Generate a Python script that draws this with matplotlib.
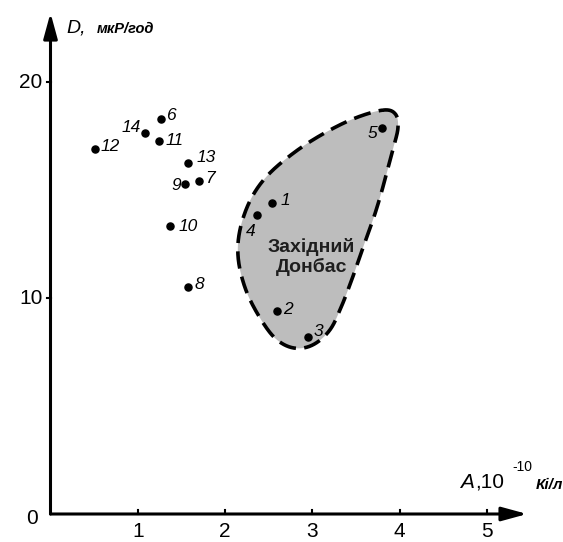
import numpy as np
import matplotlib
matplotlib.use("Agg")
import matplotlib.pyplot as plt

# ---- data ----
point_ids = ["1", "2", "3", "4", "5", "6", "7", "8", "9", "10", "11", "12", "13", "14"]
activity = [2.54, 2.59, 2.95, 2.37, 3.80, 1.27, 1.70, 1.58, 1.54, 1.37, 1.24, 0.51, 1.58, 1.08]
dose = [14.40, 9.40, 8.19, 13.84, 17.87, 18.29, 15.42, 10.51, 15.28, 13.33, 17.27, 16.90, 16.25, 17.64]

# outline of the "Західний Донбас" region (data coordinates)
region_x = [3.81, 3.95, 3.98, 3.92, 3.83, 3.72, 3.59, 3.47, 3.34, 3.20, 3.00,
            2.78, 2.57, 2.38, 2.23, 2.15, 2.17, 2.29, 2.49, 2.80, 3.14, 3.49]
region_y = [18.70, 18.52, 17.87, 16.85, 15.46, 13.94, 12.45, 11.06, 9.68, 8.52, 7.82,
            7.69, 8.15, 9.21, 10.46, 11.85, 13.15, 14.54, 15.69, 16.76, 17.64, 18.33]
region_label = "Західний\nДонбас"

x_ticks = [1, 2, 3, 4, 5]
y_ticks = [10, 20]

# label offsets in pixels (style)
label_offsets = {
    "1": (8, 2, "left"), "2": (7, 1, "left"), "3": (6, 6, "left"),
    "4": (-7, -16, "center"), "5": (-5, -5, "right"), "6": (5, 3, "left"),
    "7": (6, 2, "left"), "8": (6, 2, "left"), "9": (-4, -2, "right"),
    "10": (8, 0, "left"), "11": (7, 0, "left"), "12": (6, 2, "left"),
    "13": (8, 6, "left"), "14": (-4, 5, "right"),
}


def closed_catmull_rom(xs, ys, n=30):
    P = np.column_stack([xs, ys])
    m = len(P)
    out = []
    t = np.linspace(0, 1, n, endpoint=False)[:, None]
    for i in range(m):
        p0, p1, p2, p3 = P[(i - 1) % m], P[i], P[(i + 1) % m], P[(i + 2) % m]
        seg = 0.5 * ((2 * p1) + (-p0 + p2) * t + (2 * p0 - 5 * p1 + 4 * p2 - p3) * t ** 2
                     + (-p0 + 3 * p1 - 3 * p2 + p3) * t ** 3)
        out.append(seg)
    out = np.vstack(out)
    out = np.vstack([out, out[:1]])
    return out[:, 0], out[:, 1]


W, H = 563, 542
fig = plt.figure(figsize=(W / 100, H / 100), dpi=100)
x0px, y0px = 50.5, 514.0
ux, uy = 87.3, 21.6
xmax, ymax = 5.5, 23.5
ax = fig.add_axes([x0px / W, (H - y0px) / H, xmax * ux / W, ymax * uy / H])
ax.set_xlim(0, xmax)
ax.set_ylim(0, ymax)
for s in ax.spines.values():
    s.set_visible(False)
ax.set_xticks([])
ax.set_yticks([])

sans = ["Liberation Sans", "DejaVu Sans"]

# region
rx, ry = closed_catmull_rom(region_x, region_y)
ax.fill(rx, ry, color="#bdbdbd", zorder=1, lw=0)
ax.plot(rx, ry, color="black", lw=2.6, ls=(0, (4.8, 2.3)), zorder=2)
ax.text(2.99, 11.9, region_label, family=["Liberation Sans Narrow", "Liberation Sans", "DejaVu Sans"],
        weight="bold", fontsize=14, ha="center", va="center", color="#1e1e1e",
        linespacing=1.2, zorder=3)

# axes with arrows
arrow = dict(arrowstyle="-|>,head_length=1.1,head_width=0.3", lw=2.2,
             color="black", shrinkA=0, shrinkB=0, mutation_scale=14)
ax.annotate("", xy=(5.46, 0), xytext=(0, 0), arrowprops=arrow, annotation_clip=False)
ax.annotate("", xy=(0, 23.2), xytext=(0, 0), arrowprops=arrow, annotation_clip=False)

# ticks
for xt in x_ticks:
    ax.plot([xt, xt], [0, 4 / uy], color="black", lw=1.5, clip_on=False)
    ax.text(xt, -27 / uy, str(xt), family=sans, fontsize=15, ha="center", va="bottom")
for yt in y_ticks:
    ax.plot([-4 / ux, 0], [yt, yt], color="black", lw=1.5, clip_on=False)
    ax.text(-0.09, yt, str(yt), family=sans, fontsize=15, ha="right", va="center")
ax.text(-0.21, -0.2, "0", family=sans, fontsize=15, ha="center", va="center")

# points
ax.scatter(activity, dose, s=26, color="black", zorder=4)
for pid, xv, yv in zip(point_ids, activity, dose):
    dx, dy, ha = label_offsets[pid]
    ax.annotate(pid, (xv, yv), xytext=(dx * 0.72, dy * 0.72), textcoords="offset points",
                family=sans, style="italic", fontsize=12.5, ha=ha, va="center", zorder=5)

# axis titles
fig.text(66 / W, 1 - 28 / H, "D,", family=sans, style="italic", fontsize=14, ha="left", va="center")
fig.text(97 / W, 1 - 29 / H, "мкР/год", family=sans, style="italic", weight="bold",
         fontsize=10.5, ha="left", va="center")
fig.text(460 / W, 1 - 482 / H, "A", family=sans, style="italic", fontsize=15, ha="left", va="center")
fig.text(475 / W, 1 - 482 / H, ",10", family=sans, fontsize=15, ha="left", va="center")
fig.text(512 / W, 1 - 467 / H, "-10", family=sans, fontsize=10, ha="left", va="center")
fig.text(536 / W, 1 - 485 / H, "Кі/л", family=sans, style="italic", weight="bold",
         fontsize=11, ha="left", va="center")

fig.savefig("out.png", dpi=100)
